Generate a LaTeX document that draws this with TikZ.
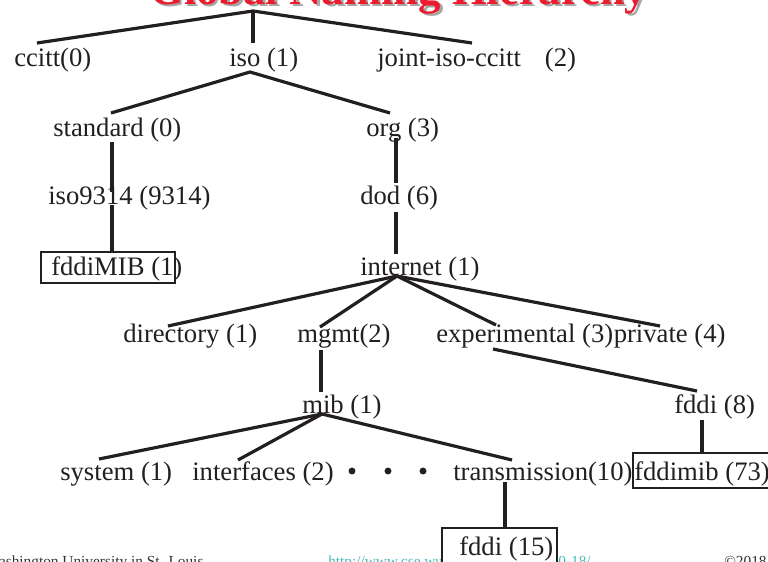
\documentclass[tikz,border=0pt]{standalone}
\usepackage{fontspec}
\setmainfont{Liberation Serif}
\definecolor{ink}{HTML}{231F20}
\definecolor{titlered}{HTML}{EC1C2E}
\definecolor{urlteal}{HTML}{4DB8B8}
\definecolor{footgray}{HTML}{333333}
\begin{document}
\begin{tikzpicture}[x=0.75pt,y=-0.75pt,
  lbl/.style={anchor=base west, inner sep=0pt, text=ink, font=\fontsize{20}{24}\selectfont},
  edge/.style={draw=ink, line width=2.4pt},
  leafbox/.style={draw=ink, line width=1pt},
  foot/.style={anchor=base west, inner sep=0pt, font=\fontsize{11.5}{13}\selectfont},
  titlefont/.style={anchor=base west, inner sep=0pt, font=\fontsize{33.5}{40}\selectfont\bfseries}]
\useasboundingbox (0,0) rectangle (768,561);
\clip (0,0) rectangle (768,561);

% title (cropped at the top)
\node[titlefont, text=black!35] (titleshadow) at (151.5,6.5) {Global Naming Hierarchy};
\node[titlefont, text=titlered] (title) at (149,4) {Global Naming Hierarchy};

% footer
\node[foot, text=footgray] (footl) at (-14.5,566) {Washington University in St. Louis};
\node[foot, text=urlteal] (footc) at (328,566) {http://www.cse.wustl.edu/\textasciitilde jain/cse570-18/};
\node[foot, text=footgray] (footr) at (724,566) {\textcopyright 2018 Raj Jain};

% boxes
\draw[leafbox] (41,252) rectangle (175,283);
\draw[leafbox] (633,453) rectangle (775,488);
\draw[leafbox, fill=white] (442,528) rectangle (557,570);

% labels
\node[lbl] (ccitt) at (14,66) {ccitt(0)};
\node[lbl] (iso) at (229,66) {iso (1)};
\node[lbl] (joint) at (377,66) {joint-iso-ccitt\hspace{0.9em}(2)};
\node[lbl] (standard) at (53,136) {standard (0)};
\node[lbl] (org) at (366,136) {org (3)};
\node[lbl] (iso9314) at (48,204) {iso9314 (9314)};
\node[lbl] (dod) at (360,204) {dod (6)};
\node[lbl] (fddiMIB) at (51,275) {fddiMIB (1)};
\node[lbl] (internet) at (360,275) {internet (1)};
\node[lbl] (directory) at (123,342) {directory (1)};
\node[lbl] (mgmt) at (297,342) {mgmt(2)};
\node[lbl] (experimental) at (436,342) {experimental (3)};
\node[lbl, anchor=base west] (private) at (experimental.base east) {private (4)};
\node[lbl] (mib) at (302,413) {mib (1)};
\node[lbl] (fddi8) at (674,413) {fddi (8)};
\node[lbl] (system) at (60,480) {system (1)};
\node[lbl] (interfaces) at (192,480) {interfaces (2)};
\node[lbl] (transmission) at (453,480) {transmission(10)};
\node[lbl] (fddimib) at (634,480) {fddimib (73)};
\node[lbl] (fddi15) at (459,555) {fddi (15)};

% ellipsis bullets
\foreach \bx [count=\i] in {352,388,423} {
  \fill[ink] (\bx,471) circle[radius=2.6pt];
}

% connector points
\coordinate (rootpt) at (253,11);
\coordinate (ccittT) at (37,43);
\coordinate (isoT) at (253,43);
\coordinate (jointT) at (472,43);
\coordinate (isoB) at (250,72);
\coordinate (standardT) at (111,113);
\coordinate (orgT) at (390,113);
\coordinate (standardB) at (112,142);
\coordinate (iso9314T) at (112,192);
\coordinate (iso9314B) at (112,205);
\coordinate (fddiMIBT) at (112,252);
\coordinate (orgB) at (396,138);
\coordinate (dodT) at (396,183);
\coordinate (dodB) at (396,212);
\coordinate (internetT) at (396,254);
\coordinate (internetB) at (397,276);
\coordinate (directoryT) at (168,326);
\coordinate (mgmtT) at (320,327);
\coordinate (experimentalT) at (496,325);
\coordinate (privateT) at (660,326);
\coordinate (mgmtB) at (321,350);
\coordinate (mibT) at (321,392);
\coordinate (mibB) at (322,414);
\coordinate (systemT) at (99,459);
\coordinate (interfacesT) at (238,460);
\coordinate (transmissionT) at (512,460);
\coordinate (experimentalB) at (493,349);
\coordinate (fddi8T) at (697,391);
\coordinate (fddi8B) at (702,420);
\coordinate (fddimibT) at (702,453);
\coordinate (transmissionB) at (505,482);
\coordinate (fddi15T) at (505,528);

% connectors
\draw[edge] (ccittT) -- (rootpt) -- (jointT);
\draw[edge] (rootpt) -- (isoT);
\draw[edge] (standardT) -- (isoB) -- (orgT);
\draw[edge] (standardB) -- (iso9314T);
\draw[edge] (iso9314B) -- (fddiMIBT);
\draw[edge] (orgB) -- (dodT);
\draw[edge] (dodB) -- (internetT);
\draw[edge] (internetB) -- (directoryT);
\draw[edge] (internetB) -- (mgmtT);
\draw[edge] (internetB) -- (experimentalT);
\draw[edge] (internetB) -- (privateT);
\draw[edge] (mgmtB) -- (mibT);
\draw[edge] (mibB) -- (systemT);
\draw[edge] (mibB) -- (interfacesT);
\draw[edge] (mibB) -- (transmissionT);
\draw[edge] (experimentalB) -- (fddi8T);
\draw[edge] (fddi8B) -- (fddimibT);
\draw[edge] (transmissionB) -- (fddi15T);
\end{tikzpicture}
\end{document}
